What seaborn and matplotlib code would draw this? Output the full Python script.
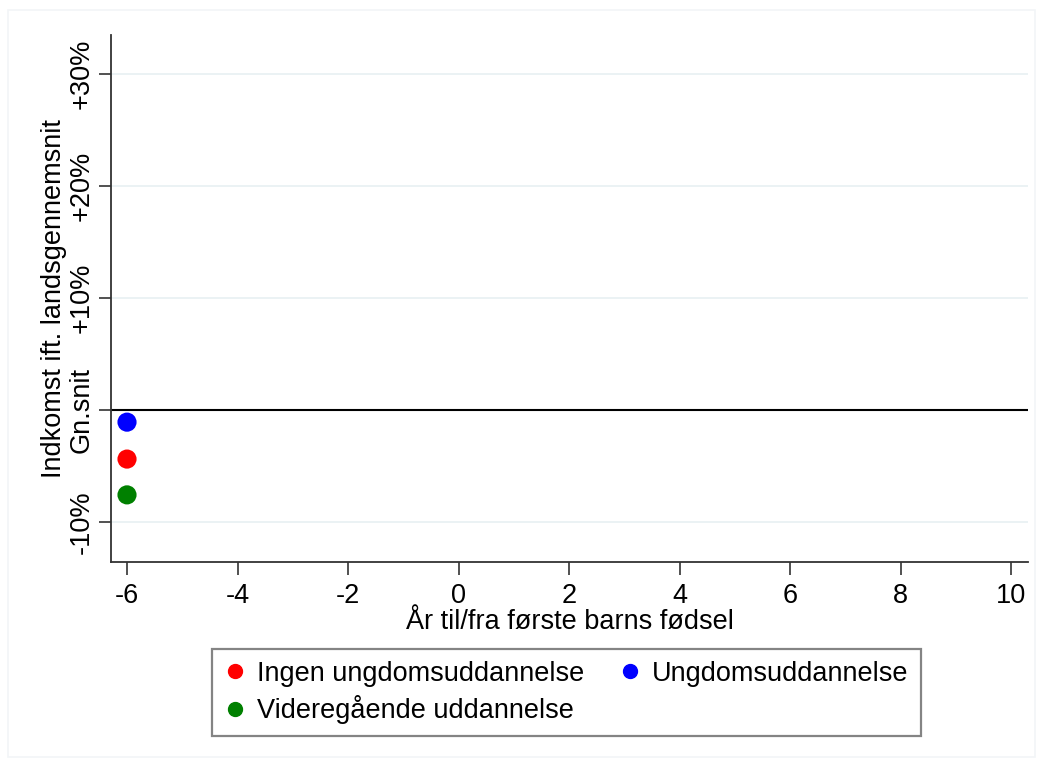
import matplotlib
matplotlib.use("Agg")
import matplotlib.pyplot as plt
import seaborn as sns
import pandas as pd

# data (only year -6 is shown)
years = [-6, -6, -6]
groups = ["Ingen ungdomsuddannelse", "Videregående uddannelse", "Ungdomsuddannelse"]
income = [-4.4, -7.6, -1.1]
colors = {"Ingen ungdomsuddannelse": "red",
          "Videregående uddannelse": "green",
          "Ungdomsuddannelse": "blue"}

ytick_vals = [-10, 0, 10, 20, 30]
ytick_labels = ["-10%", "Gn.snit", "+10%", "+20%", "+30%"]
xtick_vals = [-6, -4, -2, 0, 2, 4, 6, 8, 10]

df = pd.DataFrame({"year": years, "group": groups, "income": income})

sns.set_style("white")
plt.rcParams["font.family"] = ["Liberation Sans", "DejaVu Sans"]
plt.rcParams["axes.unicode_minus"] = False
plt.rcParams["text.color"] = "black"
plt.rcParams["xtick.labelcolor"] = "black"
plt.rcParams["ytick.labelcolor"] = "black"
plt.rcParams["axes.labelcolor"] = "black"

fs = 19.5

fig = plt.figure(figsize=(10.43, 7.66), dpi=100)
# faint outer frame of the graph region
fig.patches.append(plt.Rectangle((0.008, 0.012), 0.984, 0.975, transform=fig.transFigure,
                                 fill=False, edgecolor="#f2f5f7", lw=1.2))
ax = fig.add_axes([0.1064, 0.2663, 0.8792, 0.688])

# light grid lines + black reference line at the average
for v in [-10, 10, 20, 30]:
    ax.axhline(v, color="#e8f0f2", lw=1.2, zorder=0)
ax.axhline(0, color="black", lw=1.5, zorder=1)

sns.scatterplot(data=df, x="year", y="income", hue="group", palette=colors,
                s=190, edgecolor="none", ax=ax, zorder=3, legend=False)

ax.set_xlim(-6.29, 10.3)
ax.set_ylim(-13.6, 33.5)
ax.set_xticks(xtick_vals)
ax.set_yticks(ytick_vals)
ax.set_yticklabels(ytick_labels, rotation=90, va="center")
ax.tick_params(axis="both", labelsize=fs, length=9, width=1.2, color="#333333",
               direction="out", left=True, bottom=True, pad=6)
ax.tick_params(axis="y", pad=3)
for s in ["top", "right"]:
    ax.spines[s].set_visible(False)
for s in ["left", "bottom"]:
    ax.spines[s].set_color("#333333")
    ax.spines[s].set_linewidth(1.3)

ax.set_xlabel("År til/fra første barns fødsel", fontsize=fs, labelpad=0)
ax.set_ylabel("Indkomst ift. landsgennemsnit", fontsize=fs, labelpad=1)

handles = [plt.Line2D([], [], marker="o", ls="", color=colors[g], markersize=10)
           for g in groups]
leg = fig.legend(handles, groups, loc="center", bbox_to_anchor=(0.543, 0.096),
                 ncol=2, fontsize=fs, frameon=True, fancybox=False,
                 edgecolor="#666666", handletextpad=0.4, columnspacing=1.3,
                 borderpad=0.45, labelspacing=0.3, handlelength=0.8)
leg.get_frame().set_linewidth(1.6)

fig.savefig("out.png", dpi=100, facecolor="white")
